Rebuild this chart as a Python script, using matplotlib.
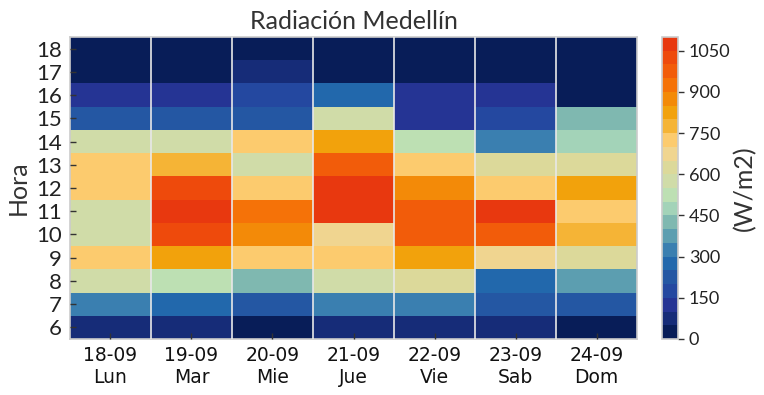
import matplotlib
matplotlib.use("Agg")
import matplotlib.pyplot as plt
import numpy as np
from matplotlib.colors import ListedColormap, BoundaryNorm

# ---------------- data ----------------
dias = ["18-09\nLun", "19-09\nMar", "20-09\nMie", "21-09\nJue",
        "22-09\nVie", "23-09\nSab", "24-09\nDom"]
horas = list(range(6, 19))  # 6 .. 18

# radiacion (W/m2) por hora, de 6 a 18, un arreglo por dia
lun = [75, 325, 575, 725, 575, 575, 725, 725, 575, 225, 125, 20, 15]
mar = [75, 275, 525, 825, 1025, 1075, 1025, 775, 575, 225, 125, 20, 15]
mie = [20, 225, 425, 725, 875, 925, 725, 575, 725, 225, 175, 75, 15]
jue = [75, 325, 575, 725, 675, 1075, 1075, 975, 825, 575, 275, 20, 15]
vie = [75, 325, 625, 825, 975, 975, 875, 725, 525, 125, 125, 20, 15]
sab = [75, 225, 275, 675, 975, 1075, 725, 625, 325, 175, 125, 20, 15]
dom = [20, 225, 375, 625, 775, 725, 825, 625, 475, 425, 20, 20, 15]

ticks_cbar = [0, 150, 300, 450, 600, 750, 900, 1050]

# ---------------- colormap (22 niveles de 50 W/m2) ----------------
colores = ["#081d58", "#162c78", "#253494", "#2448a0", "#2457a3", "#2268ac",
           "#3a7fb0", "#5c9eb0", "#7fb8b0", "#a3d3b8", "#bde0b3", "#d0dca8",
           "#dcd99a", "#f0d590", "#fccb6e", "#f5b436", "#f2a20c", "#f38a08",
           "#f57208", "#f25c0a", "#ee4a0c", "#e8380f"]
cmap = ListedColormap(colores)
norm = BoundaryNorm(np.arange(0, 1101, 50), cmap.N)

datos = np.array([lun, mar, mie, jue, vie, sab, dom]).T  # filas=horas

fig = plt.figure(figsize=(7.64, 3.95), dpi=100)
ax = fig.add_axes([0.0916, 0.1418, 0.7422, 0.7645])
cax = fig.add_axes([0.8670, 0.1418, 0.0200, 0.7645])

x_edges = np.arange(len(dias) + 1)
y_edges = np.arange(horas[0] - 0.5, horas[-1] + 1.0, 1.0)
mesh = ax.pcolormesh(x_edges, y_edges, datos, cmap=cmap, norm=norm)

ax.set_xlim(0, len(dias))
ax.set_ylim(y_edges[0], y_edges[-1])
ax.set_xticks(np.arange(len(dias)) + 0.5)
ax.set_xticklabels(dias, fontsize=13.5, color="#111111", family="DejaVu Sans")
ax.set_yticks(horas)
ax.set_yticklabels([str(h) for h in horas], fontsize=16, color="#222222",
                   family="Lato")
ax.tick_params(axis="both", direction="in", length=4, width=1,
               color="#333333", pad=6)
ax.tick_params(axis="x", pad=5)

ax.set_xticks(np.arange(1, len(dias)), minor=True)
ax.tick_params(which="minor", length=0)
ax.grid(which="minor", axis="x", color="#e8e8e8", lw=1.2)
ax.set_axisbelow(False)
for s in ax.spines.values():
    s.set_color("#cccccc")
    s.set_linewidth(1.2)

ax.set_title("Radiación Medellín", fontsize=18, color="#333333",
             family="Lato", pad=6)
ax.set_ylabel("Hora", fontsize=18, color="#333333", family="Lato", labelpad=4)

cb = fig.colorbar(mesh, cax=cax, ticks=ticks_cbar)
cb.outline.set_edgecolor("#cccccc")
cb.outline.set_linewidth(1.2)
cax.minorticks_off()
cax.tick_params(length=4, width=1, color="#333333", labelsize=13,
                labelcolor="#222222", pad=4)
for t in cax.get_yticklabels():
    t.set_family("Lato")
cb.set_label("(W/m2)", fontsize=18, color="#333333", family="Lato",
             labelpad=2)

fig.savefig("out.png", dpi=100)
